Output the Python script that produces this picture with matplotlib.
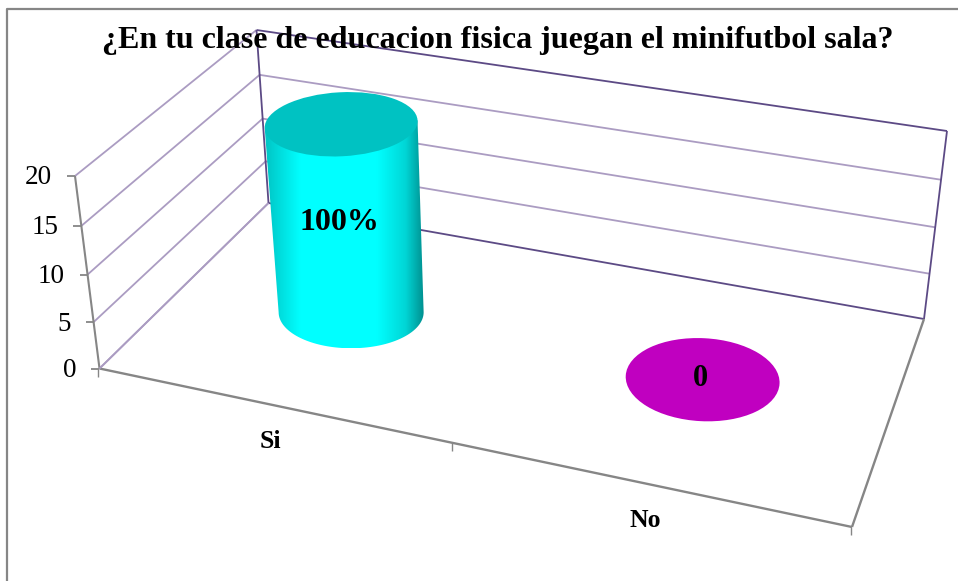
import numpy as np
import matplotlib
matplotlib.use("Agg")
import matplotlib.pyplot as plt
from matplotlib.patches import Ellipse, Polygon
from matplotlib.colors import LinearSegmentedColormap

title = "¿En tu clase de educacion fisica juegan el minifutbol sala?"
categories = ["Si", "No"]
values = [20, 0]
point_labels = ["100%", "0"]
y_ticks = [0, 5, 10, 15, 20]
y_max = 20

plt.rcParams["font.family"] = ["Liberation Serif", "DejaVu Serif"]
fig = plt.figure(figsize=(9.58, 5.81), dpi=100)
ax = fig.add_axes([0, 0, 1, 1])
ax.set_xlim(0, 958)
ax.set_ylim(581, 0)
ax.axis("off")

# Pixel frame of the oblique projection
FL, FR, BL, BR = map(np.array, [(99.5, 368.5), (852, 527), (268.5, 203), (924, 319)])
FLT, BLT, BRT = map(np.array, [(75, 176), (256.5, 30), (947, 131)])
GRID, WALL, AXIS = "#ab9cc2", "#5c4a85", "#868686"


def homography(src, dst):
    A, b = [], []
    for (u, v), (x, y) in zip(src, dst):
        A.append([u, v, 1, 0, 0, 0, -u * x, -v * x]); b.append(x)
        A.append([0, 0, 0, u, v, 1, -u * y, -v * y]); b.append(y)
    return np.append(np.linalg.solve(np.array(A), np.array(b)), 1).reshape(3, 3)


H = homography([(0, 0), (1, 0), (0, 1), (1, 1)], [FL, FR, BL, BR])


def floor(u, v):
    p = H @ np.array([u, v, 1.0])
    return p[:2] / p[2]


def zfrac(val):
    t = val / y_max
    return t / (1 + 0.05 * (1 - t))


def seg(p, q, c, lw=1.3, z=1):
    ax.plot([p[0], q[0]], [p[1], q[1]], color=c, lw=lw, zorder=z, solid_capstyle="butt")


# Walls and grid
for val in y_ticks:
    f = zfrac(val)
    a = FL + f * (FLT - FL)
    b = BL + f * (BLT - BL)
    c = BR + f * (BRT - BR)
    edge = val in (0, y_max)
    seg(a, b, GRID)
    seg(b, c, WALL if edge else GRID)
    seg(a, a + np.array([-8, 0]), AXIS)
    ax.text(a[0] - 23, a[1] + 2, str(val), ha="right", va="center", fontsize=19.5, color="black", zorder=6)
seg(BL, BLT, WALL)
seg(BR, BRT, WALL)
seg(FL, FLT, AXIS, lw=1.5)
seg(FL, FR, AXIS, lw=1.7)
seg(FR, BR, AXIS, lw=1.7)
seg(FL, BL, GRID)

# Category axis ticks
for u in np.linspace(0, 1, len(categories) + 1):
    p = floor(u, 0)
    seg(p + np.array([-1, 0]), p + np.array([-1, 8]), AXIS, lw=1.0)

# Frame
ax.plot([7.5, 7.5, 958], [581, 9, 9], color=AXIS, lw=1.6, zorder=1)

# Cylinder / disc marks
cmap = LinearSegmentedColormap.from_list(
    "cyl", [(0, "#00c4c4"), (0.22, "#00ffff"), (0.70, "#00ffff"), (0.88, "#00d6d6"), (1, "#008c8c")])
n = len(categories)
for i, (cat, val, lab) in enumerate(zip(categories, values, point_labels)):
    u = (i + 0.5) / n
    base = floor(u, 0.49) + np.array([1.5, 0])
    shift = np.array([np.interp(base[0], [99.5, 924], [-24.5, 23]), -188.0])
    top = base + zfrac(val) * shift
    edge_pt = floor(u, 0)
    ax.text(edge_pt[0] - 0.5, edge_pt[1] + 37, cat, ha="center", va="center", fontsize=18.5,
            fontweight="bold", zorder=6)
    if val > 0:
        rb, rbh, rt, rth = 72.5, 36, 76.5, 32
        th = np.radians(np.linspace(0, 180, 80))
        low = np.c_[base[0] + rb * np.cos(th), base[1] + rbh * np.sin(th)]
        tilt = np.radians(3)
        up = np.array([[top[0] - rt * np.cos(tilt), top[1] + rt * np.sin(tilt)],
                       [top[0] + rt * np.cos(tilt), top[1] - rt * np.sin(tilt)]])
        side = Polygon(np.r_[low, up], closed=True, transform=ax.transData, fc="none", ec="none", zorder=3)
        ax.add_patch(side)
        x0, x1 = top[0] - rt, base[0] + rb
        grad = np.linspace(0, 1, 256)[None, :]
        im = ax.imshow(grad, cmap=cmap, extent=(x0, x1, base[1] + rbh, top[1] - rth),
                       aspect="auto", zorder=3, interpolation="bilinear")
        im.set_clip_path(side)
        ax.set_xlim(0, 958)
        ax.set_ylim(581, 0)
        ax.add_patch(Ellipse(top, 2 * rt, 2 * rth, angle=-3, fc="#00c2c2", ec="none", zorder=4))
        ax.text((top[0] + base[0]) / 2 - 7, (top[1] + base[1]) / 2 + 4, lab, ha="center", va="center",
                fontsize=23, fontweight="bold", zorder=6)
    else:
        centre = top + np.array([1.5, 0])
        ax.add_patch(Ellipse(centre, 2 * 77, 2 * 41.5, angle=3, fc="#c000c0", ec="none", zorder=4))
        ax.text(top[0] - 0.5, top[1] - 1, lab, ha="center", va="center", fontsize=22,
                fontweight="bold", zorder=6)

ax.text(498, 40.5, title, ha="center", va="center", fontsize=23, fontweight="bold", zorder=6)
fig.savefig("out.png", dpi=100)
